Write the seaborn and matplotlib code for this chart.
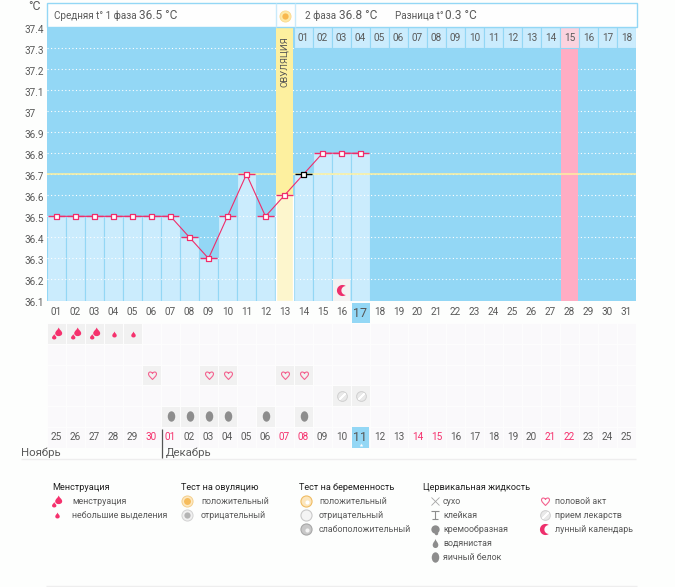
import numpy as np
import matplotlib
matplotlib.use("Agg")
import matplotlib.pyplot as plt
import seaborn as sns
from matplotlib.colors import ListedColormap
from matplotlib.patches import Rectangle
from matplotlib.path import Path
from matplotlib.transforms import Affine2D, ScaledTranslation

W, H = 675, 587

# dane z wykresu
days = list(range(1, 32))
temp_days = list(range(1, 18))
temps = [36.5, 36.5, 36.5, 36.5, 36.5, 36.5, 36.5, 36.4, 36.3, 36.5,
         36.7, 36.5, 36.6, 36.7, 36.8, 36.8, 36.8]
y_ticks = [36.1, 36.2, 36.3, 36.4, 36.5, 36.6, 36.7, 36.8, 36.9, 37, 37.1, 37.2, 37.3, 37.4]
y_labels = ["36.1", "36.2", "36.3", "36.4", "36.5", "36.6", "36.7", "36.8",
            "36.9", "37", "37.1", "37.2", "37.3", "37.4"]
phase_labels = ["%02d" % i for i in range(1, 19)]
ovulation_day = 13
peak_day = 28
today = 17
cover_line = 36.7
calendar_dates = ["25", "26", "27", "28", "29", "30", "01", "02", "03", "04", "05", "06", "07", "08", "09",
                  "10", "11", "12", "13", "14", "15", "16", "17", "18", "19", "20", "21", "22", "23", "24", "25"]
red_dates_days = [6, 7, 13, 14, 20, 21, 27, 28]
heavy_days = [1, 2, 3]
light_days = [4, 5]
heart_days = [6, 9, 10, 13, 14]
pill_days = [16, 17]
egg_days = [7, 8, 9, 10, 12, 14]
moon_day = 16

BG = "#93d7f5"
BAR = "#cbecfd"
PINK = "#f5316d"
TXT = "#5a5a5a"
FS = 6.4


def px_axes(fig, x0, y0, x1, y1, **kw):
    return fig.add_axes([x0 / W, 1 - y1 / H, (x1 - x0) / W, (y1 - y0) / H], **kw)


def drop_path(wide=1.0):
    verts = [(0, 1), (0.15 * wide, 0.45), (0.62 * wide, 0.2), (0.62 * wide, -0.35),
             (0.62 * wide, -0.8), (0.3 * wide, -1), (0, -1),
             (-0.3 * wide, -1), (-0.62 * wide, -0.8), (-0.62 * wide, -0.35),
             (-0.62 * wide, 0.2), (-0.15 * wide, 0.45), (0, 1), (0, 1)]
    codes = [Path.MOVETO] + [Path.CURVE4] * 12 + [Path.CLOSEPOLY]
    return Path(verts, codes)


def heavy_path():
    big = drop_path(1.3).transformed(Affine2D().scale(0.72).translate(0.2, 0.28))
    small = drop_path(1.3).transformed(Affine2D().scale(0.45).translate(-0.55, -0.55))
    return Path.make_compound_path(big, small)


def heart_path():
    verts = [(0, -1), (-0.5, -0.45), (-1, -0.1), (-1, 0.4), (-1, 1), (-0.25, 1.05), (0, 0.5),
             (0.25, 1.05), (1, 1), (1, 0.4), (1, -0.1), (0.5, -0.45), (0, -1), (0, -1)]
    codes = [Path.MOVETO] + [Path.CURVE4] * 12 + [Path.CLOSEPOLY]
    return Path(verts, codes)


def moon_path():
    t = np.radians(np.linspace(53.13, 306.87, 40))
    outer = np.c_[np.cos(t), np.sin(t)]
    a = np.radians(np.linspace(270, 90, 30))
    inner = np.c_[0.6 + 0.8 * np.cos(a), 0.8 * np.sin(a)]
    return Path(np.vstack([outer, inner, outer[:1]]), closed=True)


def egg_path():
    return Path.unit_circle().transformed(Affine2D().scale(0.72, 1.0))


def icon(ax, kind, x, y):
    xs, ys = np.atleast_1d(x), np.atleast_1d(y)
    kw = dict(ls="none", zorder=6, clip_on=False)
    if kind == "heavy":
        ax.plot(xs, ys, marker=heavy_path(), ms=8.6, mfc=PINK, mec=PINK, mew=0, **kw)
    elif kind == "light":
        ax.plot(xs, ys, marker=drop_path(1.2), ms=4.3, mfc=PINK, mec=PINK, mew=0, **kw)
    elif kind == "heart":
        ax.plot(xs, ys, marker=heart_path(), ms=6, mfc="none", mec="#f4628f", mew=0.8, **kw)
    elif kind == "pill":
        ax.plot(xs, ys, marker="o", ms=7, mfc="#e9e9e9", mec="#cfcfcf", mew=0.7, **kw)
        ax.plot(xs, ys, marker=(2, 2, -45), ms=6, mec="#ffffff", mew=1, **kw)
    elif kind == "egg":
        ax.plot(xs, ys, marker=egg_path(), ms=7.5, mfc="#8d8d8d", mew=0, **kw)
    elif kind == "water":
        ax.plot(xs, ys, marker=drop_path(1.0), ms=6.5, mfc="#8d8d8d", mew=0, **kw)
    elif kind == "cream":
        ax.plot(xs, ys, marker="o", ms=6, mfc="#8d8d8d", mew=0, **kw)
        ax.plot(xs + 1, ys + 4, marker="o", ms=2.5, mfc="#8d8d8d", mew=0, **kw)
    elif kind == "dry":
        ax.plot(xs, ys, marker="x", ms=6, mec="#a5a5a5", mew=0.6, **kw)
    elif kind == "sticky":
        ax.plot(xs, ys, marker="|", ms=6, mec="#8d8d8d", mew=0.8, **kw)
        ax.plot(xs, ys - 4, marker="_", ms=6, mec="#8d8d8d", mew=0.8, **kw)
        ax.plot(xs, ys + 4, marker="_", ms=5, mec="#8d8d8d", mew=0.8, **kw)
    elif kind == "moon":
        ax.plot(xs, ys, marker=moon_path(), ms=8, mfc="#ee2f6c", mew=0, **kw)
    elif kind == "ov_pos":
        ax.plot(xs, ys, marker="o", ms=8, mfc="#fde9c2", mec="#f4cf8c", mew=0.7, **kw)
        ax.plot(xs, ys, marker="o", ms=5, mfc="#f6bc5c", mew=0, **kw)
    elif kind == "ov_neg":
        ax.plot(xs, ys, marker="o", ms=8, mfc="#f0f0f0", mec="#d2d2d2", mew=0.7, **kw)
        ax.plot(xs, ys, marker="o", ms=4.5, mfc="#b4b4b4", mew=0, **kw)
    elif kind == "pr_pos":
        ax.plot(xs, ys, marker="o", ms=8, mfc="#fce6bd", mec="#f0bc62", mew=0.8, **kw)
        ax.plot(xs + 1, ys + 1, marker="o", ms=3, mfc="#ffffff", mew=0, **kw)
    elif kind == "pr_neg":
        ax.plot(xs, ys, marker="o", ms=8, mfc="#f4f4f4", mec="#c9c9c9", mew=0.8, **kw)
    elif kind == "pr_weak":
        ax.plot(xs, ys, marker="o", ms=8, mfc="#c8c8c8", mec="#a8a8a8", mew=0.8, **kw)
        ax.plot(xs + 1, ys + 1, marker="o", ms=3, mfc="#f4f4f4", mew=0, **kw)


sns.set_theme(style="white")
plt.rcParams["font.family"] = ["Roboto", "DejaVu Sans"]
fig = plt.figure(figsize=(W / 100, H / 100), dpi=100, facecolor="#fdfefd")

# podklad pod dzisiejsza date, pod wszystkimi osiami
fig.add_artist(Rectangle((352 / W, 1 - 323 / H), 18 / W, 20 / H, fc=BG, lw=0,
                         transform=fig.transFigure, zorder=-1))

# --- glowny wykres temperatury
ax = px_axes(fig, 47, 27, 636, 300.5, facecolor=BG)
ax.set_xlim(0.5, 31.5)
ax.set_ylim(36.1, 37.4)
for s in ax.spines.values():
    s.set_visible(False)

ax.bar(temp_days, np.array(temps) - 36.1, bottom=36.1, width=1, color=BAR,
       edgecolor=BG, linewidth=0.8, zorder=1)
ax.hlines(y_ticks[1:-1], 0.5, 31.5, color="white", lw=0.8, linestyle=(0, (1, 2.2)), zorder=1.5)
ax.axvspan(ovulation_day - 0.45, ovulation_day + 0.45, color="#fdf09f", lw=0, zorder=2)
ax.axvspan(peak_day - 0.45, peak_day + 0.45, ymax=12 / 13, color="#ffadc4", lw=0, zorder=2)
ov_val = temps[temp_days.index(ovulation_day)]
ax.bar([ovulation_day], [ov_val - 36.1], bottom=36.1, width=0.9, color="#fdf6cd", zorder=2.5)

# numeracja dni 2 fazy
for i, lab in enumerate(phase_labels):
    d = ovulation_day + 1 + i
    ax.bar([d], [0.1], bottom=37.3, width=1, color="#fbd3df" if d == peak_day else BAR,
           edgecolor=BG, linewidth=0.8, zorder=2.6)
    ax.text(d, 37.347, lab, ha="center", va="center", fontsize=7.2, color=TXT, zorder=3)
ax.text(ovulation_day, 37.235, "ОВУЛЯЦИЯ", rotation=90, ha="center", va="center",
        fontsize=6.8, color="#555555", zorder=3)

ax.axhline(cover_line, color="#fdf09f", lw=1.1, zorder=3)
ax.add_patch(Rectangle((moon_day - 0.47, 36.1), 0.94, 0.1, color="#f3f2f2", lw=0, zorder=3))
icon(ax, "moon", moon_day, 36.15)

caps = ["black" if d == 14 else "#f02d6b" for d in temp_days]
ax.hlines(temps, np.array(temp_days) - 0.47, np.array(temp_days) + 0.47, colors=caps, lw=1, zorder=4)
sns.lineplot(x=temp_days, y=temps, ax=ax, color="#f02d6b", lw=0.8, estimator=None, sort=False,
             legend=False, zorder=4.5)
mec = ["black" if d == 14 else "#f02d6b" for d in temp_days]
ax.scatter(temp_days, temps, marker="s", s=12, c="white", edgecolors=mec, linewidths=0.9, zorder=5)

ax.set_yticks(y_ticks)
ax.set_yticklabels(y_labels, ha="left", fontsize=7.2, color=TXT)
ax.set_xticks(days)
ax.set_xticklabels(["%02d" % d for d in days], fontsize=7.2, color=TXT)
ax.tick_params(axis="y", length=0, pad=16.2)
ax.tick_params(axis="x", length=0, pad=4.5)
off = ScaledTranslation(0, -2 / 100, fig.dpi_scale_trans)
for lab in ax.get_yticklabels():
    lab.set_transform(lab.get_transform() + off)
ax.get_xticklabels()[today - 1].set_fontsize(9)
ax.get_xticklabels()[today - 1].set_color("#555555")

# --- wiersze z objawami i daty
rows = np.zeros((6, 31))
for d in heavy_days + light_days:
    rows[0, d - 1] = 1
for d in heart_days:
    rows[2, d - 1] = 1
for d in pill_days:
    rows[3, d - 1] = 1
for d in egg_days:
    rows[4, d - 1] = 1
ax2 = px_axes(fig, 47, 323, 636, 447.5)
sns.heatmap(rows, ax=ax2, cmap=ListedColormap(["#faf9fb", "#f1f1f1"]), vmin=0, vmax=1, cbar=False,
            linewidths=0.7, linecolor="#fdfdfd", xticklabels=False, yticklabels=False)
icon(ax2, "heavy", np.array(heavy_days) - 0.5, [0.5] * len(heavy_days))
icon(ax2, "light", np.array(light_days) - 0.5, [0.55] * len(light_days))
icon(ax2, "heart", np.array(heart_days) - 0.5, [2.5] * len(heart_days))
icon(ax2, "pill", np.array(pill_days) - 0.5, [3.5] * len(pill_days))
icon(ax2, "egg", np.array(egg_days) - 0.5, [4.5] * len(egg_days))
ax2.add_patch(Rectangle((today - 0.97, 5), 0.94, 1, color=BG, lw=0, zorder=4))
for i, lab in enumerate(calendar_dates):
    d = i + 1
    col = PINK if d in red_dates_days else TXT
    size = 7.2
    if d == today:
        col, size = "#555555", 9
    ax2.text(d - 0.5, 5.5, lab, ha="center", va="center", fontsize=size, color=col, zorder=5)

# --- reszta strony w pikselach
top = px_axes(fig, 0, 0, W, H)
top.set_xlim(0, W)
top.set_ylim(H, 0)
top.axis("off")
top.patch.set_alpha(0)

top.add_patch(Rectangle((47, 3), 589.5, 24, fc="#fefefe", ec=BG, lw=1))
top.vlines([275.5, 294.5], 3, 27, color="#c9eafb", lw=1)
top.plot([284.5], [16], marker="o", ms=8, mfc="#fde9a8", mec="#fbd98a", mew=0.6, ls="none")
top.plot([284.5], [16], marker="o", ms=4.5, mfc="#f8b84e", mew=0, ls="none")
top.text(54, 16, "Средняя t° 1 фаза", fontsize=7.1, color=TXT, va="center")
top.text(139, 15.5, "36.5 °C", fontsize=8.6, color=TXT, va="center")
top.text(305, 16, "2 фаза", fontsize=7.1, color=TXT, va="center")
top.text(339, 15.5, "36.8 °C", fontsize=8.6, color=TXT, va="center")
top.text(395, 16, "Разница t°", fontsize=7.1, color=TXT, va="center")
top.text(445, 15.5, "0.3 °C", fontsize=8.6, color=TXT, va="center")
top.text(28, 6, "°C", fontsize=8.8, color=TXT, va="center")

top.plot([361], [445], marker="*", ms=3, mfc="white", mew=0, ls="none", zorder=6)

top.hlines(458.5, 21, 636, color="#eeeeee", lw=1)
top.hlines(586, 46, 637, color="#eeeeee", lw=1)
top.vlines(161.5, 429, 458, color="#555555", lw=0.9)
top.text(21, 453, "Ноябрь", fontsize=8.2, color=TXT, va="center")
top.text(166, 453, "Декабрь", fontsize=8.2, color=TXT, va="center")

# --- legenda
legend_y = [501, 515, 529, 543, 557]
groups = [
    (52, 72, 57, "Менструация", ["менструация", "небольшие выделения"], ["heavy", "light"]),
    (181, 201, 187, "Тест на овуляцию", ["положительный", "отрицательный"], ["ov_pos", "ov_neg"]),
    (299, 319, 306, "Тест на беременность", ["положительный", "отрицательный", "слабоположительный"],
     ["pr_pos", "pr_neg", "pr_weak"]),
    (423, 443, 435, "Цервикальная жидкость", ["сухо", "клейкая", "кремообразная", "водянистая", "яичный белок"],
     ["dry", "sticky", "cream", "water", "egg"]),
    (None, 555, 545, None, ["половой акт", "прием лекарств", "лунный календарь"], ["heart", "pill", "moon"]),
]
for hx, tx, ix, title, names, kinds in groups:
    if title:
        top.text(hx, 487, title, fontsize=6.6, color="#222222", va="center")
    for yy, name, kind in zip(legend_y, names, kinds):
        top.text(tx, yy, name, fontsize=FS, color=TXT, va="center")
        icon(top, kind, ix, yy)

fig.savefig("out.png", dpi=100, facecolor=fig.get_facecolor())
